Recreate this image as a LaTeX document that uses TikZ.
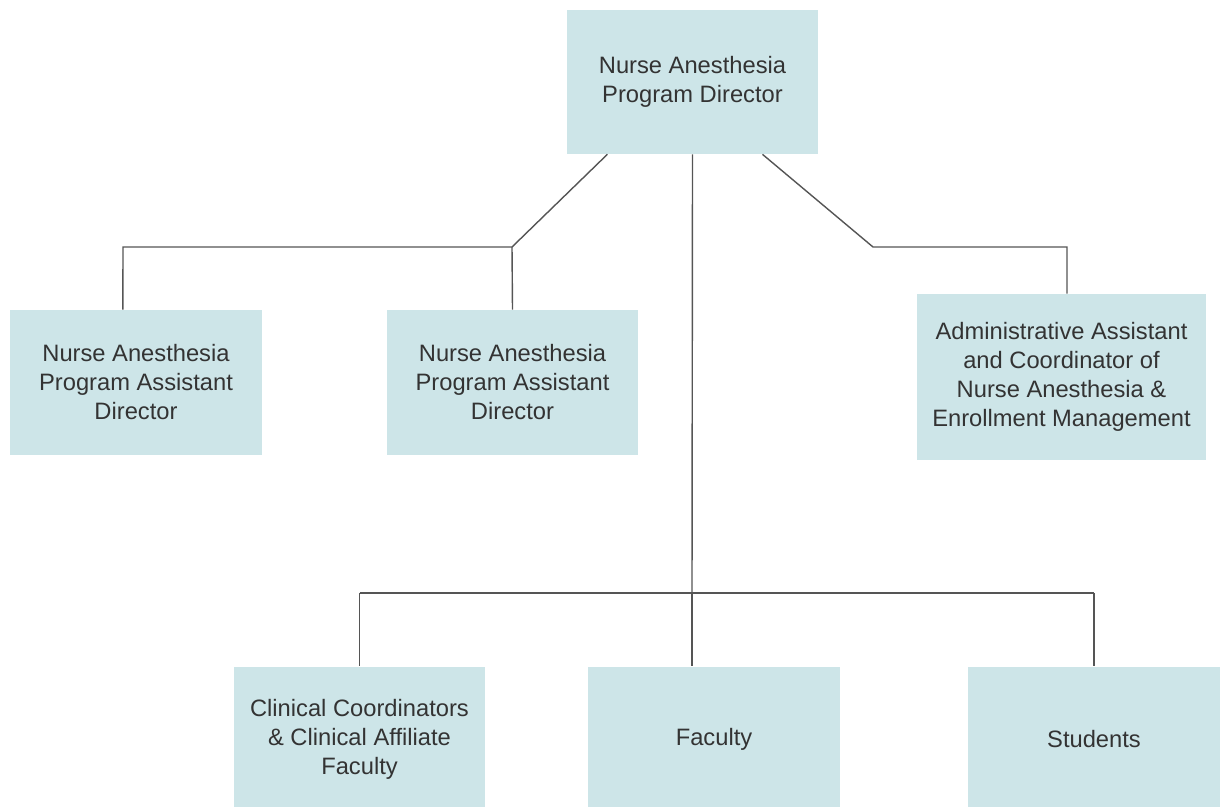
\documentclass[tikz,border=0pt]{standalone}
\usepackage{fontspec}
\setmainfont{Liberation Sans}
\usetikzlibrary{calc}
\usetikzlibrary{positioning}
\definecolor{boxfill}{HTML}{CDE5E8}
\definecolor{linkgray}{HTML}{555555}
\definecolor{textgray}{HTML}{333333}
\tikzset{unit/.style = {fill = boxfill, text = textgray, align = center,
                        font = \fontsize{13.5}{16.5}\selectfont,
                        inner sep = 0pt, minimum width = 5.04cm},
         link/.style = {draw = linkgray, line width = 0.8pt}}

\begin{document}
\begin{tikzpicture}[x = 0.02cm, y = -0.02cm]
      \useasboundingbox (0, 0) rectangle (1220, 807);
      \node [unit, minimum height = 2.88cm] (top) at (692.5, 82) {Nurse Anesthesia\\Program Director};
      \node [unit, minimum height = 2.9cm] (pa1) at (136, 382.5) {Nurse Anesthesia\\Program Assistant\\Director};
      \node [unit, minimum height = 2.9cm] (pa2) at (512.5, 382.5) {Nurse Anesthesia\\Program Assistant\\Director};
      \node [unit, minimum width = 5.78cm, minimum height = 3.32cm] (admin) at (1061.5, 377)
            {Administrative Assistant\\and Coordinator of\\Nurse Anesthesia \&\\Enrollment Management};
      \node [unit, minimum height = 2.9cm] (clin) at (359.5, 739) {Clinical Coordinators\\\& Clinical Affiliate\\Faculty};
      \node [unit, minimum height = 2.9cm] (fac) at (714, 739) {Faculty};
      \node [unit, minimum height = 2.9cm] (stud) at (1094, 739) {Students};
      \coordinate (k1) at (512, 247);
      \coordinate (k2) at (873, 247);
      \coordinate (bus) at (692, 593);
      \draw [link] ($(top.south west)!0.163!(top.south east)$) -- (k1) -- (k1 -| 123, 0)
            -- ($(pa1.north west)!0.448!(pa1.north east)$);
      \draw [link] (k1) -- (pa2.north);
      \draw [link] ($(top.south west)!0.777!(top.south east)$) -- (k2) -- (k2 -| 1067, 0) -- (1067, 0 |- admin.north);
      \draw [link] (top.south) -- (bus);
      \draw [link] (bus -| clin.north) -- (bus -| stud.north);
      \draw [link] (bus -| clin.north) -- (clin.north);
      \draw [link] (bus) -- (bus |- fac.north);
      \draw [link] (bus -| stud.north) -- (stud.north);
    \end{tikzpicture}
\end{document}
